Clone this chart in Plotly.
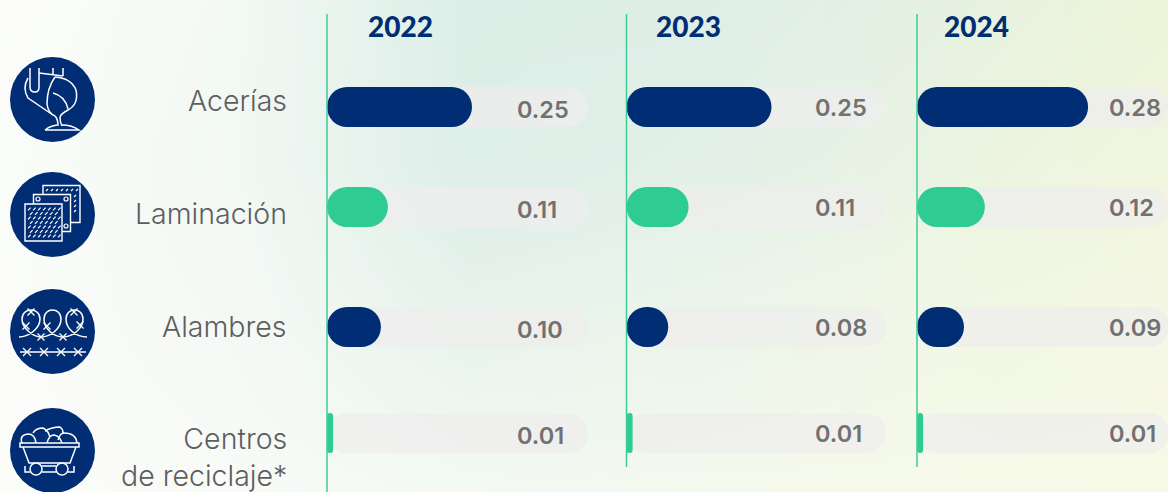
import plotly.graph_objects as go
import numpy as np

W, H = 1168, 492
categories = ["Acerías", "Laminación", "Alambres", "Centros<br>de reciclaje*"]
years = ["2022", "2023", "2024"]
labels_2022 = ["0.25", "0.11", "0.10", "0.01"]
labels_2023 = ["0.25", "0.11", "0.08", "0.01"]
labels_2024 = ["0.28", "0.12", "0.09", "0.01"]
bars_2022 = [0.25, 0.105, 0.093, 0.0105]
bars_2023 = [0.25, 0.107, 0.072, 0.0105]
bars_2024 = [0.295, 0.117, 0.081, 0.0105]
track_2022 = [0.45, 0.45, 0.45, 0.45]
track_2023 = [0.447, 0.447, 0.447, 0.447]
track_2024 = [0.435, 0.435, 0.435, 0.435]

row_y = [107, 207, 327, 433]
PX_PER_UNIT = 580
NAVY = "#002d74"
GREEN = "#2ecb92"
TRACK = "rgba(238,237,237,0.72)"
colors = [NAVY, GREEN, NAVY, GREEN]

bg_grid = [
    [[252, 253, 250], [243, 249, 245], [220, 238, 231], [222, 238, 231], [229, 241, 226], [236, 244, 216]],
    [[250, 252, 249], [242, 248, 244], [222, 238, 232], [226, 240, 233], [234, 243, 226], [241, 246, 222]],
    [[251, 252, 249], [245, 249, 246], [232, 243, 237], [236, 245, 235], [241, 247, 230], [245, 248, 228]],
    [[252, 252, 249], [248, 251, 247], [243, 249, 243], [244, 249, 238], [246, 249, 233], [247, 249, 231]],
]

panels = [
    ("x2", "xaxis2", 327.0, 270, bars_2022, track_2022, labels_2022, 188, 2, 492),
    ("x3", "xaxis3", 626.5, 280, bars_2023, track_2023, labels_2023, 186.5, 0, 467),
    ("x4", "xaxis4", 917.0, 251, bars_2024, track_2024, labels_2024, 190, 0, 467),
]
year_x = [366, 654, 942]

# smooth page backdrop
STEP = 4
grid = np.array(bg_grid, dtype=float)
gx = np.arange(STEP / 2, W, STEP)
gy = np.arange(STEP / 2, H, STEP)
src_x = np.linspace(0, W, grid.shape[1])
src_y = np.linspace(0, H, grid.shape[0])
by_row = np.stack([np.stack([np.interp(gx, src_x, grid[r, :, c]) for c in range(3)], axis=-1)
                   for r in range(grid.shape[0])])
backdrop = np.stack([np.stack([np.interp(gy, src_y, by_row[:, i, c]) for c in range(3)], axis=-1)
                     for i in range(len(gx))], axis=1).round().astype(np.uint8)

fig = go.Figure()
fig.add_trace(go.Image(z=backdrop, x0=STEP / 2, y0=STEP / 2, dx=STEP, dy=STEP,
                       hoverinfo="skip", xaxis="x", yaxis="y"))

layout_axes = {}
shapes = []
annotations = []


def line(path, width=1.5, color="white", fill=None):
    shapes.append(dict(type="path", path=path, xref="x", yref="y", layer="above",
                       line=dict(color=color, width=width), fillcolor=fill or "rgba(0,0,0,0)"))


for (xa, key, x0, wpx, vals, track, labs, lab_off, lab_dy, line_end), yr, yx in zip(panels, years, year_x):
    fig.add_trace(go.Bar(x=track, y=row_y, base=0, orientation="h", width=40, xaxis=xa, yaxis="y",
                         marker=dict(color=TRACK, cornerradius=20, line_width=0), hoverinfo="skip"))
    fig.add_trace(go.Bar(x=vals, y=row_y, base=0, orientation="h", width=40, xaxis=xa, yaxis="y",
                         marker=dict(color=colors, cornerradius=20, line_width=0), hoverinfo="skip"))
    layout_axes[key] = dict(domain=[x0 / W, (x0 + wpx) / W], range=[0, wpx / PX_PER_UNIT], anchor="y",
                            visible=False, fixedrange=True)
    line(f"M{x0},14 L{x0},{line_end}", width=1.5, color="#3fcb97")
    annotations.append(dict(text=yr, x=yx, y=26, xref="x", yref="y", xanchor="left", yanchor="middle",
                            showarrow=False, font=dict(family="Lato", size=28, color=NAVY, weight=900)))
    for lab, ry in zip(labs, row_y):
        annotations.append(dict(text=lab, x=lab_off / PX_PER_UNIT, y=ry + lab_dy, xref=xa, yref="y",
                                xanchor="left", yanchor="middle", showarrow=False,
                                font=dict(family="Inter", size=23.5, color="#717171", weight=600)))

label_y = [100, 213, 326, 457]
for c, ly in zip(categories, label_y):
    annotations.append(dict(text=c, x=289, y=ly, xref="x", yref="y", xanchor="right", yanchor="middle",
                            align="right", showarrow=False,
                            font=dict(family="Inter", size=28.5, color="#5e5e5e", weight=300)))

# icon discs
for cy in [99.5, 214.5, 331.5, 450.5]:
    shapes.append(dict(type="circle", x0=10, x1=95, y0=cy - 42.5, y1=cy + 42.5, xref="x", yref="y",
                       layer="above", fillcolor=NAVY, line_width=0))

# icon 1: ladle
line("M30,68 L30,87 Q30,92 35,92 Q39,92 39,87 L39,68 M39,73 L63,76 M53,68 L53,75 M63,68 L63,76")
line("M28,78 Q22,88 28,98 L53,115")
line("M55,77 Q71,78 76,90 Q79,104 68,110 Q60,114 60,118 Q60,122 62,126")
line("M55,77 Q47,88 47,104 Q48,113 55,116 Q58,119 58,126")
line("M53,93 Q65,96 68,109")
line("M45,130 Q50,126 57,125 M62,125 Q72,125 79,130 L45,130")

# icon 2: stacked sheets
for x0s, y0s, s in [(43, 185.5, 37), (33.5, 194.5, 37), (25, 204, 37)]:
    shapes.append(dict(type="rect", x0=x0s, x1=x0s + s, y0=y0s, y1=y0s + s, xref="x", yref="y", layer="above",
                       fillcolor=NAVY, line=dict(color="white", width=1.4)))
slashes = []
for j, hy in enumerate([209, 213.5, 218, 222.5, 227, 231.5, 236]):
    for hx in range(28 + (j % 2) * 2, 60, 5):
        slashes.append(f"M{hx},{hy + 1.3} L{hx + 2.6},{hy - 1.3}")
for hx in range(46, 78, 5):
    slashes.append(f"M{hx},{190 + 1} L{hx + 2},{190 - 1}")
for hy in [196, 201, 206, 211]:
    slashes.append(f"M74,{hy + 1} L76,{hy - 1}")
line(" ".join(slashes), width=1.2)
for cx, cy in [(38, 199), (66, 199), (66, 226)]:
    shapes.append(dict(type="circle", x0=cx - 2, x1=cx + 2, y0=cy - 2, y1=cy + 2, xref="x", yref="y",
                       layer="above", line=dict(color="white", width=1.2), fillcolor=NAVY))

# icon 3: barbed wire
line("M19,337 C28,337 40,329 40,319 C40,307 22,307 22,319 C22,329 34,337 41,337 "
     "C50,337 61,329 61,319 C61,307 44,307 44,319 C44,329 54,337 63,337 "
     "C72,337 83,329 83,319 C83,307 66,307 66,319 C66,329 76,337 87,337")
line("M20,352 L86,352")
for sx, sy, r in [(31, 312, 3.5), (26, 326, 3.5), (47, 326, 3.5), (41, 337, 3.5), (63, 337, 3.5), (74, 312, 3.5),
                  (80, 325, 3.5), (27, 352, 4), (44, 352, 4), (61, 352, 4), (78, 352, 4)]:
    line(f"M{sx - r},{sy - r} L{sx + r},{sy + r} M{sx - r},{sy + r} L{sx + r},{sy - r}", width=1.3)

# icon 4: mine cart
line("M20,443 L79,443 L79,447 L20,447 Z M23,447 L29,463 L70,463 L76,447")
line("M22,443 Q19,435 28,434 Q35,434 36,443 M33,433 Q36,428 43,428 Q48,430 50,437 M45,431 Q52,427 60,427 "
     "Q63,429 63,433 M47,443 Q49,435 54,435 Q60,436 62,443 M58,440 Q60,433 64,433 Q76,433 77,443")
line("M25,466 L25,472 L30,472 M74,466 L74,472 L68,472 M42,466 L56,466 M42,472 L56,472")
for cx in [36, 62]:
    shapes.append(dict(type="circle", x0=cx - 6, x1=cx + 6, y0=463, y1=475, xref="x", yref="y", layer="above",
                       line=dict(color="white", width=1.5), fillcolor=NAVY))

fig.update_layout(
    width=W, height=H, autosize=False,
    margin=dict(l=0, r=0, t=0, b=0, pad=0),
    paper_bgcolor="#f7faf5", plot_bgcolor="rgba(0,0,0,0)",
    barmode="overlay", showlegend=False,
    xaxis=dict(domain=[0, 1], range=[0, W], visible=False, fixedrange=True),
    yaxis=dict(domain=[0, 1], range=[H, 0], visible=False, fixedrange=True),
    shapes=shapes, annotations=annotations,
    **layout_axes,
)
fig.write_html("out.html", config={"displayModeBar": False},
               post_script="document.body.style.margin='0';document.documentElement.style.overflow='hidden';")
